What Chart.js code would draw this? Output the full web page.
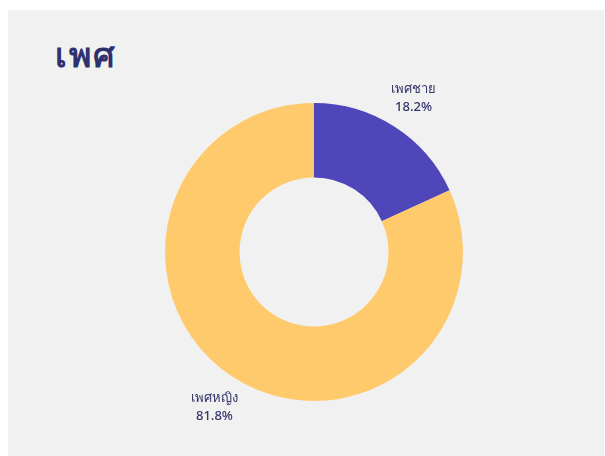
<!DOCTYPE html>
<html>
<head>
<meta charset="utf-8">
<script src="https://cdn.jsdelivr.net/npm/chart.js@4"></script>
<style>
  html, body { margin: 0; padding: 0; background: #ffffff; width: 605px; height: 456px; overflow: hidden; }
  #panel { position: absolute; left: 8px; top: 10px; width: 596px; height: 446px; background: #f1f1f1; }
  #title { position: absolute; left: 47px; top: 18px; margin: 0; font-family: "Noto Sans", "DejaVu Sans", sans-serif; font-weight: 800; font-size: 34px; color: #2e3170; letter-spacing: 2px; }
  #c { position: absolute; left: 0; top: 0; }
</style>
</head>
<body>
<div id="panel">
  <h1 id="title">เพศ</h1>
  <canvas id="c" width="596" height="446"></canvas>
</div>
<script>
const categories = ["เพศชาย", "เพศหญิง"];
const values = [18.2, 81.8];
const valueLabels = ["18.2%", "81.8%"];
const colors = ["#4f46ba", "#ffca6b"];

const outsideLabels = {
  id: 'outsideLabels',
  afterDatasetsDraw(chart) {
    const ctx = chart.ctx;
    const meta = chart.getDatasetMeta(0);
    ctx.save();
    ctx.textAlign = 'center';
    ctx.textBaseline = 'middle';
    ctx.fillStyle = '#33346a';
    ctx.font = '500 13px "Noto Sans", "DejaVu Sans", sans-serif';
    meta.data.forEach((arc, i) => {
      const p = arc.getProps(['x', 'y', 'startAngle', 'endAngle', 'outerRadius'], true);
      const mid = (p.startAngle + p.endAngle) / 2;
      const r = p.outerRadius + 35;
      const x = p.x + Math.cos(mid) * r;
      const y = p.y + Math.sin(mid) * r;
      ctx.fillText(categories[i], x, y - 8);
      ctx.fillText(valueLabels[i], x, y + 10);
    });
    ctx.restore();
  }
};

new Chart(document.getElementById('c'), {
  type: 'doughnut',
  data: {
    labels: categories,
    datasets: [{
      data: values,
      backgroundColor: colors,
      borderWidth: 0,
      hoverOffset: 0
    }]
  },
  options: {
    responsive: false,
    animation: false,
    cutout: '50%',
    layout: { padding: { left: 157, right: 141, top: 93, bottom: 55 } },
    plugins: {
      legend: { display: false },
      tooltip: { enabled: false },
      title: { display: false }
    }
  },
  plugins: [outsideLabels]
});
</script>
</body>
</html>
